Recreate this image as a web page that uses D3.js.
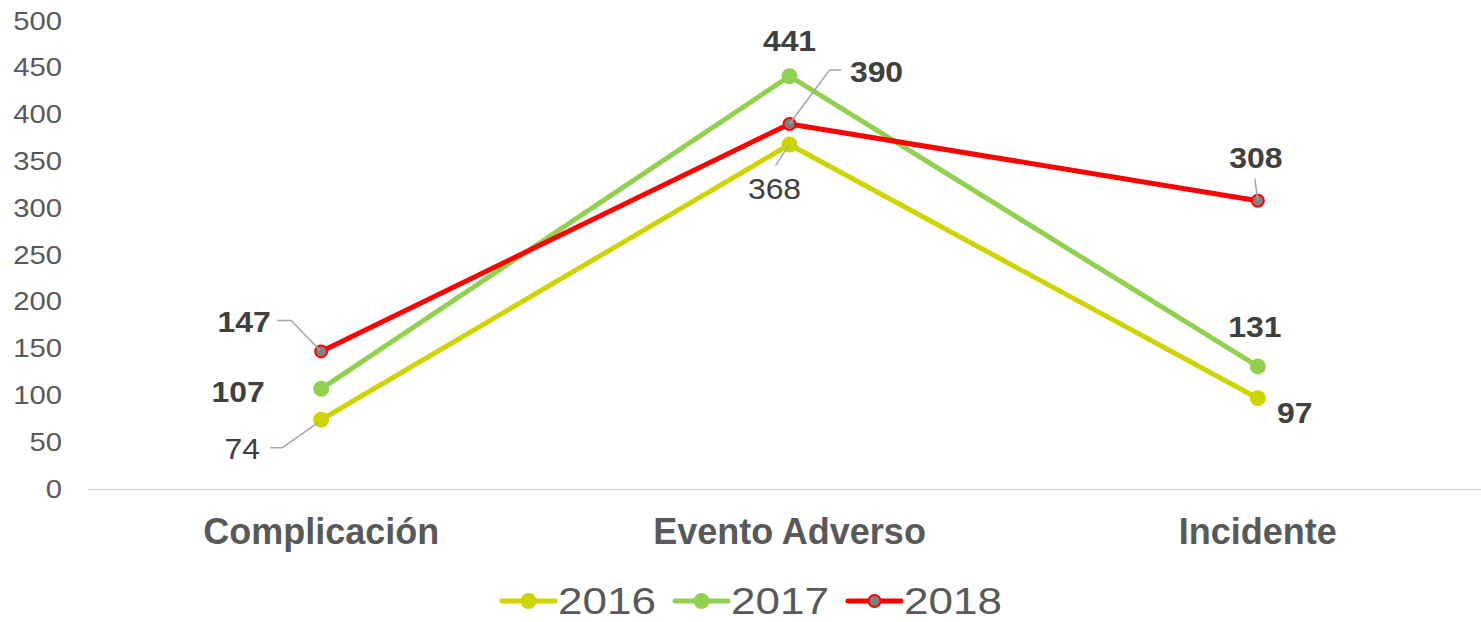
<!DOCTYPE html>
<html>
<head>
<meta charset="utf-8">
<script src="https://cdn.jsdelivr.net/npm/d3@7"></script>
<style>
  body { margin: 0; background: #fff; }
  svg { display: block; font-family: "Liberation Sans", Arial, sans-serif; }
</style>
</head>
<body>
<div id="chart"></div>
<script>
(function () {

    var categories = ['Complicación', 'Evento Adverso', 'Incidente'];
    var years = ['2016', '2017', '2018'];
    var values2016 = [74, 368, 97];
    var values2017 = [107, 441, 131];
    var values2018 = [147, 390, 308];
    var yTicks = [0, 50, 100, 150, 200, 250, 300, 350, 400, 450, 500];

    var w = 1481;
    var h = 622;

    // label placement per series / point: [dx, dy, bold, leader]
    var labelStyle = [
        [[-79, 29, false, [[-51, 28], [-39, 28], [-3, 3]]], [-15, 44, false, [[-14, 21], [-1, 1]]], [37, 14, true, null]],
        [[-83, 3, true, null], [0, -36, true, null], [-3, -40, true, null]],
        [[-77, -30, true, [[-44, -31], [-30, -31], [-1, -1]]], [87, -52, true, [[52, -54], [40, -54], [0, 0]]], [-2, -43, true, [[-3, -22], [0, 0]]]]
    ];

    var series = [
        { name: years[0], values: values2016, color: '#cdd400', fill: '#cdd400', r: 7 },
        { name: years[1], values: values2017, color: '#92d050', fill: '#92d050', r: 7 },
        { name: years[2], values: values2018, color: '#ff0000', fill: '#7f7f7f', r: 6 }
    ];

    var svg = d3.select('#chart')
        .append('svg')
            .attr('width', w)
            .attr('height', h);

    var x = d3.scaleBand()
        .domain(categories)
        .range([87, 1492]);

    var y = d3.scaleLinear()
        .domain([0, 500])
        .range([489, 21]);

    // y axis labels, no line (digits in the original look a bit wide)
    var yAxis = svg.append('g')
        .attr('transform', 'translate(62,0)')
        .call(d3.axisLeft(y).tickValues(yTicks).tickSize(0).tickPadding(0));
    yAxis.select('.domain').remove();
    yAxis.selectAll('text')
        .attr('font-size', 25)
        .attr('fill', '#595959')
        .attr('font-family', '"Liberation Sans", Arial, sans-serif')
        .attr('transform', 'scale(1.17,1)');

    // x axis
    var xAxis = svg.append('g')
        .attr('transform', 'translate(0,' + y(0) + ')')
        .call(d3.axisBottom(x).tickSize(0).tickPadding(29));
    xAxis.select('.domain').attr('stroke', '#d9d9d9').attr('stroke-width', 1.5);
    xAxis.selectAll('text')
        .attr('font-size', 36)
        .attr('font-weight', 'bold')
        .attr('fill', '#595959')
        .attr('font-family', '"Liberation Sans", Arial, sans-serif');

    var line = d3.line()
        .x(function (d, i) { return x(categories[i]) + x.bandwidth() / 2; })
        .y(function (d) { return y(d); });

    series.forEach(function (s) {
        svg.append('path')
            .datum(s.values)
            .attr('d', line)
            .attr('fill', 'none')
            .attr('stroke', s.color)
            .attr('stroke-width', 5)
            .attr('stroke-linejoin', 'round')
            .attr('stroke-linecap', 'round');
    });

    series.forEach(function (s) {
        svg.selectAll(null)
            .data(s.values)
            .enter()
            .append('circle')
                .attr('cx', function (d, i) { return x(categories[i]) + x.bandwidth() / 2; })
                .attr('cy', function (d) { return y(d); })
                .attr('r', s.r)
                .attr('fill', s.fill)
                .attr('stroke', s.color)
                .attr('stroke-width', 2);
    });

    // data labels and leader lines
    series.forEach(function (s, si) {
        s.values.forEach(function (d, i) {
            var px = x(categories[i]) + x.bandwidth() / 2;
            var py = y(d);
            var st = labelStyle[si][i];
            if (st[3]) {
                svg.append('polyline')
                    .attr('points', st[3].map(function (p) { return (px + p[0]) + ',' + (py + p[1]); }).join(' '))
                    .attr('fill', 'none')
                    .attr('stroke', '#a6a6a6')
                    .attr('stroke-width', 1.5);
            }
            svg.append('text')
                .text(d)
                .attr('transform', 'translate(' + (px + st[0]) + ',' + (py + st[1]) + ') scale(1.1,1)')
                .attr('text-anchor', 'middle')
                .attr('dominant-baseline', 'central')
                .attr('font-size', 29)
                .attr('font-weight', st[2] ? 'bold' : 'normal')
                .attr('fill', '#404040');
        });
    });

    // legend
    var legendX = [502, 675, 848];
    var legend = svg.selectAll('.legend')
        .data(series)
        .enter()
        .append('g')
            .attr('class', 'legend')
            .attr('transform', function (d, i) { return 'translate(' + legendX[i] + ',601)'; });
    legend.append('line')
        .attr('x1', 0).attr('x2', 53)
        .attr('stroke', function (d) { return d.color; })
        .attr('stroke-width', 5)
        .attr('stroke-linecap', 'round');
    legend.append('circle')
        .attr('cx', 26.5)
        .attr('r', function (d) { return d.r; })
        .attr('fill', function (d) { return d.fill; })
        .attr('stroke', function (d) { return d.color; })
        .attr('stroke-width', 2);
    legend.append('text')
        .text(function (d) { return d.name; })
        .attr('transform', 'translate(56,0) scale(1.19,1)')
        .attr('dominant-baseline', 'central')
        .attr('font-size', 37)
        .attr('fill', '#595959');

})();
</script>
</body>
</html>
